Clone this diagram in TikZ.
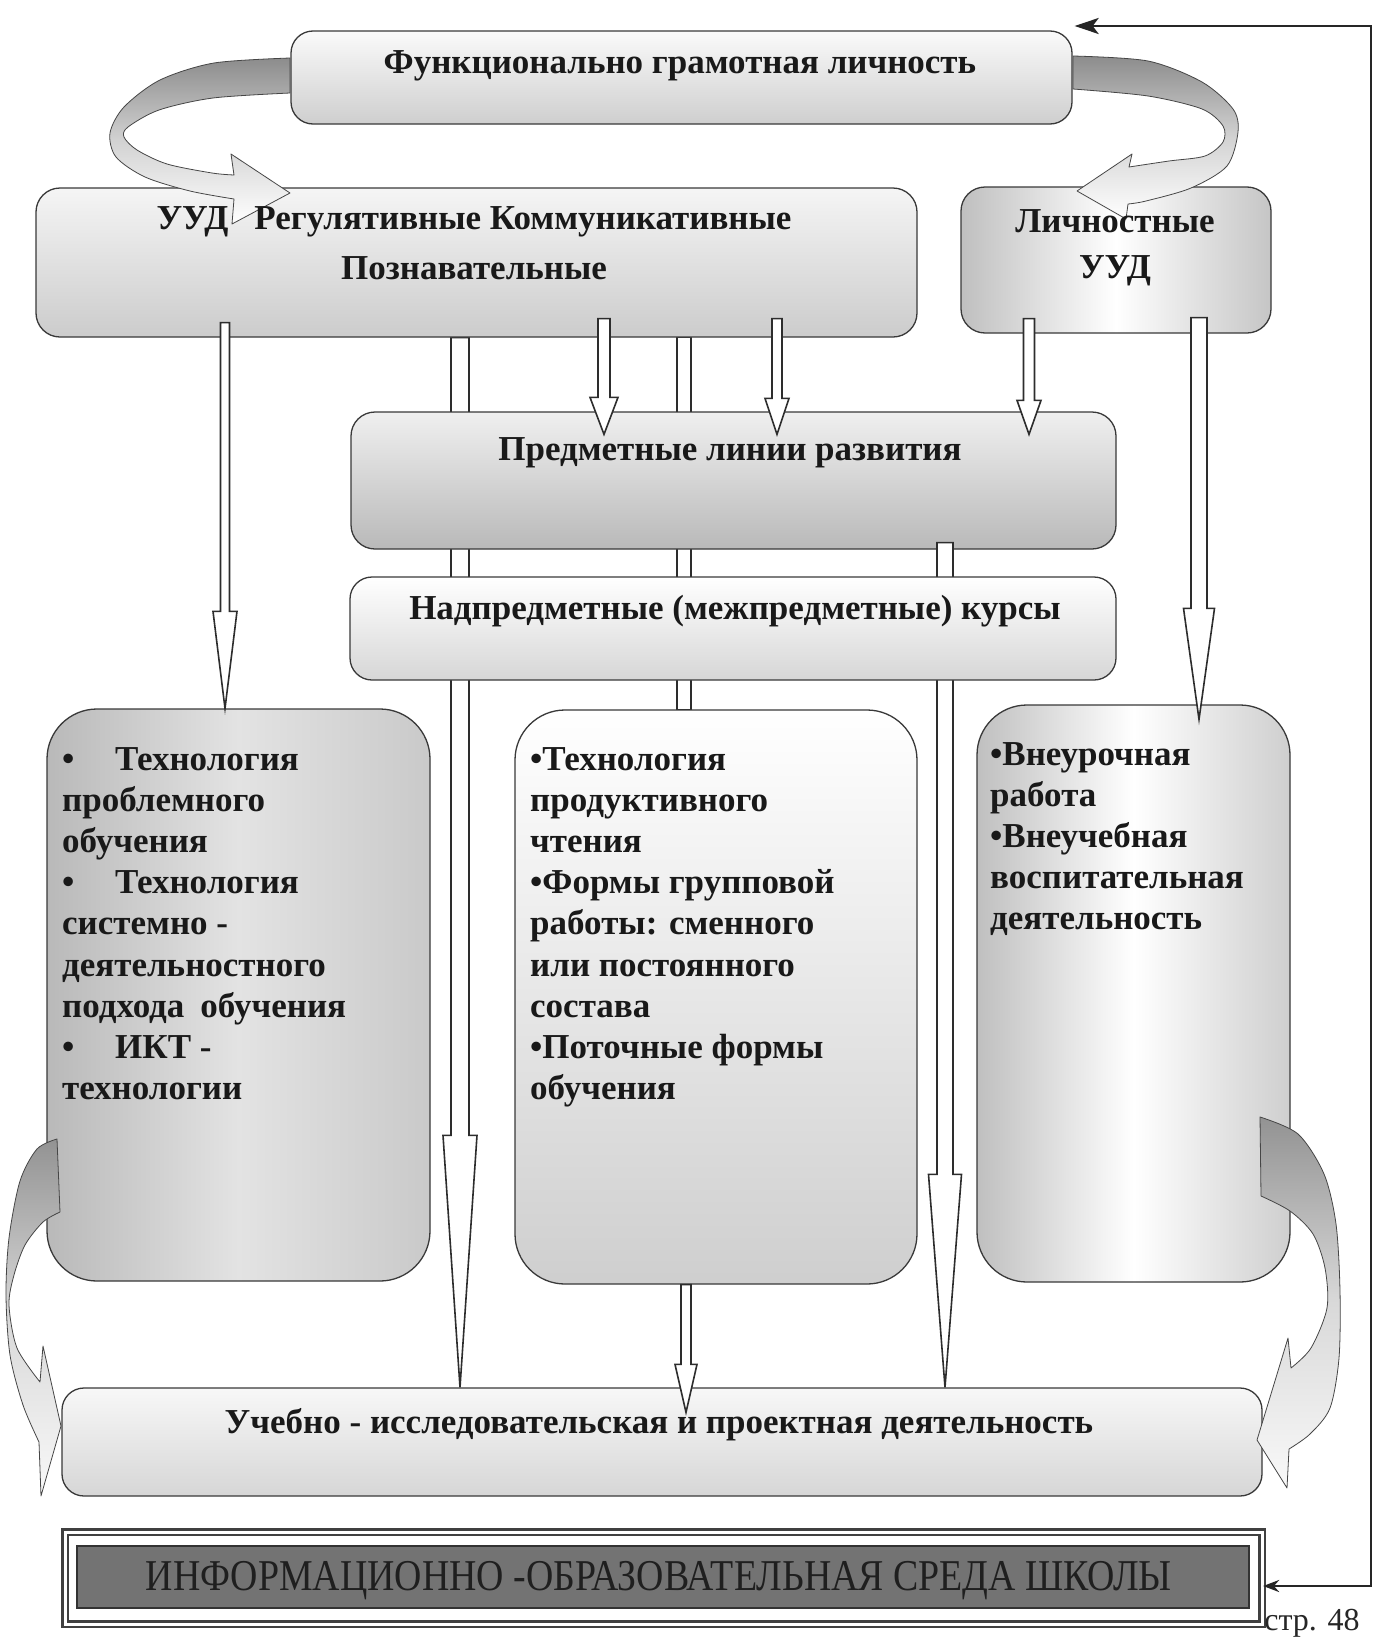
\documentclass[tikz,border=0pt]{standalone}
\usepackage{fontspec}
\setmainfont{Liberation Serif}
\newfontfamily\infofont[FakeStretch=0.86]{Liberation Serif}
\usetikzlibrary{calc,arrows.meta,backgrounds}

\tikzset{
  box/.style={draw=gray!45!black, line width=1.3pt, inner sep=0pt, rounded corners=#1},
  box/.default=24pt,
  harrowstyle/.style={draw=gray!35!black, line width=1.6pt, fill=white, line join=miter},
  ribbon/.style={draw=gray!55!black, line width=0.8pt, line join=round},
  lbl/.style={font=\fontsize{35}{41.2}\selectfont\bfseries, inner sep=0pt, text=black!90},
  fb/.style={draw=gray!30!black, line width=2.8pt},
}

% #1 start, #2 tip, #3 shaft half width, #4 head half width, #5 head length
\newcommand\hollowarrow[5]{%
  \draw[harrowstyle] let \p1=#1, \p2=#2 in
   (\x1-#3,\y1) -- (\x1-#3,\y2+#5) -- (\x1-#4,\y2+#5) -- (\x1,\y2) --
   (\x1+#4,\y2+#5) -- (\x1+#3,\y2+#5) -- (\x1+#3,\y1) -- cycle;}
% #1 start, #2 end, #3 half width
\newcommand\pipeline[3]{%
  \draw[harrowstyle] let \p1=#1, \p2=#2 in (\x1-#3,\y1) rectangle (\x1+#3,\y2);}

\begin{document}
\begin{tikzpicture}[x=1pt,y=-1pt]
\useasboundingbox (0,0) rectangle (1388,1641);

% x positions of the vertical connectors
\coordinate (xa) at (225,0);
\coordinate (xb) at (460,0);
\coordinate (xc) at (604,0);
\coordinate (xd) at (684,0);
\coordinate (xe) at (777,0);
\coordinate (xf) at (945,0);
\coordinate (xg) at (1029,0);
\coordinate (xh) at (1199,0);
\coordinate (xi) at (686,0);

% boxes
\node[box=22pt, minimum width=781pt, minimum height=93pt, top color=gray!4, bottom color=gray!38] (topbox) at (681.5,77.5) {};
\node[box, minimum width=881pt, minimum height=149pt, top color=gray!8, bottom color=gray!40] (uud) at (476.5,262.5) {};
\node[box, minimum width=310pt, minimum height=146pt, left color=gray!50, right color=gray!45, middle color=white] (lich) at (1116,260) {};
\node[box=50pt, minimum width=383pt, minimum height=572pt, left color=gray!55, right color=gray!42, middle color=gray!22] (leftbox) at (238.5,995) {};
\node[box=50pt, minimum width=402pt, minimum height=574pt, top color=white, bottom color=gray!38] (midbox) at (716,997) {};
\node[box=50pt, minimum width=313pt, minimum height=577pt, left color=gray!50, right color=gray!38, middle color=white] (rightbox) at (1133.5,993.5) {};
\node[box=22pt, minimum width=1200pt, minimum height=108pt, top color=gray!6, bottom color=gray!32] (botbox) at (662,1442) {};
\node[box, minimum width=765pt, minimum height=137pt, top color=gray!12, bottom color=gray!55] (pred) at (733.5,480.5) {};

% pipes behind the boxes
\begin{pgfonlayer}{background}
  \fill[white] (0,0) rectangle (1388,1641);
  \hollowarrow{(uud.south -| xb)}{(botbox.north -| xb)}{9pt}{17pt}{252pt}
  \pipeline{(uud.south -| xd)}{(midbox.north -| xd)}{7pt}
\end{pgfonlayer}

\hollowarrow{($(pred.south -| xf)+(0,-7)$)}{(botbox.north -| xf)}{8pt}{16.5pt}{213pt}

\node[box=22pt, minimum width=766pt, minimum height=103pt, top color=white, bottom color=gray!32] (nadp) at (733,628.5) {};

% arrows on top of the boxes
\hollowarrow{($(uud.south -| xa)+(0,-15)$)}{(leftbox.north -| xa)}{4.5pt}{12pt}{97pt}
\hollowarrow{($(uud.south -| xc)+(0,-19)$)}{($(pred.north -| xc)+(0,23)$)}{6pt}{14pt}{37pt}
\hollowarrow{($(uud.south -| xe)+(0,-19)$)}{($(pred.north -| xe)+(0,23)$)}{5pt}{12pt}{36pt}
\hollowarrow{($(lich.south -| xg)+(0,-15)$)}{($(pred.north -| xg)+(0,23)$)}{5.5pt}{12pt}{34pt}
\hollowarrow{($(lich.south -| xh)+(0,-16)$)}{($(rightbox.north -| xh)+(0,15)$)}{8pt}{15.5pt}{111pt}
\hollowarrow{(midbox.south -| xi)}{($(botbox.north -| xi)+(0,25)$)}{5pt}{11pt}{48pt}

% curved ribbon arrows
\draw[ribbon, top color=gray!90, bottom color=white, middle color=gray!35]
  plot[smooth] coordinates {(290,58) (214,63) (160,80) (124,107) (110,133) (116,157) (145,177) (190,191) (234,199)}
  -- (232,224) -- (290,193) -- (231,154)
  -- plot[smooth] coordinates {(234,175) (212,173) (167,164) (137,150) (124,137) (128,127) (159,110) (213,98) (290,93)} -- cycle;
\draw[ribbon, top color=gray!90, bottom color=white, middle color=gray!35]
  plot[smooth] coordinates {(1073,56) (1148,61) (1202,82) (1233,109) (1238,132) (1227,166) (1191,188) (1146,201) (1128,204)}
  -- (1126,219) -- (1077,191) -- (1132,154)
  -- plot[smooth] coordinates {(1129,167) (1169,161) (1205,156) (1223,142) (1223,126) (1202,109) (1148,96) (1073,89)} -- cycle;
\draw[ribbon, top color=gray!85, bottom color=gray!5, middle color=gray!30]
  plot[smooth] coordinates {(57,1139) (37,1149) (20,1181) (9,1238) (6,1295) (10,1355) (23,1405) (39,1442)}
  -- (41,1496) -- (61,1426) -- (43,1346)
  -- plot[smooth] coordinates {(40,1382) (17,1348) (9,1305) (14,1275) (25,1245) (43,1222) (60,1212)} -- cycle;
\draw[ribbon, top color=gray!85, bottom color=gray!5, middle color=gray!30]
  plot[smooth] coordinates {(1260,1117) (1298,1134) (1324,1174) (1336,1224) (1340,1291) (1339,1358) (1330,1408) (1310,1434) (1289,1449)}
  -- (1287,1488) -- (1257,1440) -- (1288,1338)
  -- plot[smooth] coordinates {(1291,1368) (1311,1348) (1327,1308) (1325,1268) (1313,1234) (1290,1211) (1261,1196)} -- cycle;

% information environment bar
\node[draw=black!75, line width=2.2pt, double, double distance=3pt, minimum width=1197pt, minimum height=92pt, inner sep=0pt] (infoframe) at (663.5,1578) {};
\node[fill=black!55, draw=black!80, line width=2.2pt, minimum width=1172pt, minimum height=62pt, inner sep=0pt] (infoband) at (663,1577) {};

% feedback connector
\coordinate (fbtop) at (1371,26);
\coordinate (fbbot) at (1371,1586);
\draw[fb, {Stealth[length=24pt,width=16pt,inset=6pt]}-{Stealth[length=16pt,width=12pt]}]
  ($(topbox.north east |- fbtop)+(2,0)$) -- (fbtop) -- (fbbot) -- (infoframe.east |- fbbot);

% texts
\node[lbl, anchor=base] (ttop) at (680,73) {Функционально грамотная личность};
\node[lbl, anchor=north, align=center, font=\fontsize{35}{50}\selectfont\bfseries] (tuud) at (474,194)
  {\strut УУД\hspace{26pt}Регулятивные Коммуникативные\\Познавательные};
\node[lbl, anchor=north, align=center, font=\fontsize{35}{46}\selectfont\bfseries] (tlich) at (1115,200)
  {\strut Личностные\\УУД};
\node[lbl, anchor=base] (tpred) at (730,460) {Предметные линии развития};
\node[lbl, anchor=base] (tnadp) at (735,619) {Надпредметные (межпредметные) курсы};
\node[lbl, anchor=north west, align=left] (tleft) at (62,741)
  {\strut\makebox[53pt][l]{•}Технология\\проблемного\\обучения\\\makebox[53pt][l]{•}Технология\\системно -\\деятельностного\\подхода\hspace{16pt}обучения\\\makebox[53pt][l]{•}ИКТ -\\технологии};
\node[lbl, anchor=north west, align=left] (tmid) at (530,741)
  {\strut •Технология\\продуктивного\\чтения\\•Формы групповой\\работы: сменного\\или постоянного\\состава\\•Поточные формы\\обучения};
\node[lbl, anchor=north west, align=left] (tright) at (990,736)
  {\strut •Внеурочная\\работа\\•Внеучебная\\воспитательная\\деятельность};
\node[lbl, anchor=base] (tbot) at (659,1433) {Учебно - исследовательская и проектная деятельность};
\node[inner sep=0pt, anchor=base, font=\infofont\fontsize{44}{50}\selectfont, text=black!88] (tinfo) at (659,1590)
  {ИНФОРМАЦИОННО -ОБРАЗОВАТЕЛЬНАЯ СРЕДА ШКОЛЫ};
\node[inner sep=0pt, anchor=base, font=\fontsize{32}{36}\selectfont, text=black!85] (tpage) at (1312,1630) {стр. 48};
\end{tikzpicture}
\end{document}
